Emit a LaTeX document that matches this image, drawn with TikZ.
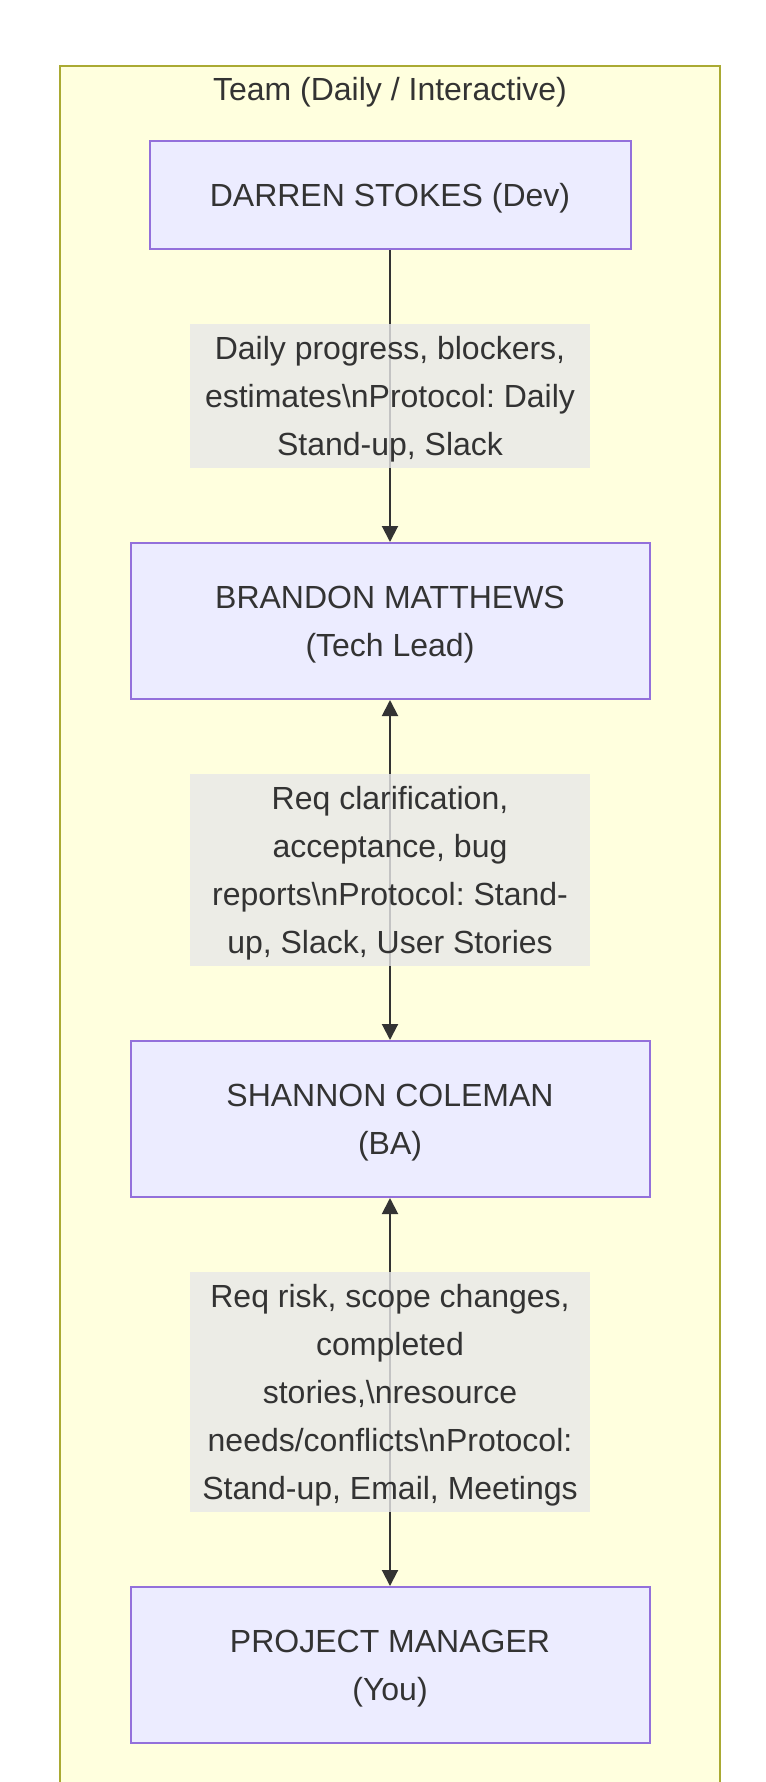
\documentclass[tikz,border=0pt]{standalone}
\usepackage{fontspec}
\setmainfont{Liberation Sans}
\usetikzlibrary{arrows.meta}
\definecolor{txt}{HTML}{333333}
\definecolor{nodefill}{HTML}{ECECFF}
\definecolor{nodeline}{HTML}{9370DB}
\definecolor{grpfill}{HTML}{FFFFDE}
\definecolor{grpline}{HTML}{AAAA33}
\definecolor{lblfill}{RGB}{232,232,232}
\newcommand\lnstrut{\rule[-9.7pt]{0pt}{36pt}}
\frenchspacing
\begin{document}
\begin{tikzpicture}[x=0.75pt,y=-0.75pt,
  every node/.style={text=txt, font=\fontsize{24pt}{36pt}\selectfont},
  person/.style={draw=nodeline, fill=nodefill, line width=1.5pt, inner sep=0pt,
    align=center, minimum width=389.25pt, minimum height=117pt},
  elabel/.style={fill=lblfill, fill opacity=0.8, text opacity=1, inner sep=0pt,
    align=center, minimum width=300pt},
  link/.style={draw=txt, line width=1.5pt},
  onehead/.style={-{Triangle[width=12pt,length=12pt]}},
  twohead/.style={{Triangle[width=12pt,length=12pt]}-{Triangle[width=12pt,length=12pt]}}
]
\useasboundingbox (0,0) rectangle (766,1782);
\fill[white] (0,0) rectangle (766,1782);
% group frame
\draw[draw=grpline, fill=grpfill, line width=1.5pt] (60,66) rectangle (720,1800);
\node[anchor=base] (title) at (390,100) {Team (Daily / Interactive)};
% people
\node[person, minimum width=360.75pt, minimum height=81pt] (dev) at (390,195)
  {\lnstrut DARREN STOKES (Dev)};
\node[person] (bm) at (390,621) {\lnstrut BRANDON MATTHEWS\\\lnstrut (Tech Lead)};
\node[person] (sc) at (390,1119) {\lnstrut SHANNON COLEMAN\\\lnstrut (BA)};
\node[person] (pm) at (390,1665) {\lnstrut PROJECT MANAGER\\\lnstrut (You)};
% connectors
\draw[link, onehead] (dev.south) -- (bm.north)
  node[elabel, midway, minimum height=108pt] (l1)
  {\lnstrut Daily progress, blockers,\\\lnstrut estimates\textbackslash nProtocol: Daily\\\lnstrut Stand-up, Slack};
\draw[link, twohead] (bm.south) -- (sc.north)
  node[elabel, midway, minimum height=144pt] (l2)
  {\lnstrut Req clarification,\\\lnstrut acceptance, bug\\\lnstrut reports\textbackslash nProtocol: Stand-\\\lnstrut up, Slack, User Stories};
\draw[link, twohead] (sc.south) -- (pm.north)
  node[elabel, midway, minimum height=180pt] (l3)
  {\lnstrut Req risk, scope changes,\\\lnstrut completed\\\lnstrut stories,\textbackslash nresource\\\lnstrut needs/conflicts\textbackslash nProtocol:\\\lnstrut Stand-up, Email, Meetings};
\end{tikzpicture}
\end{document}
